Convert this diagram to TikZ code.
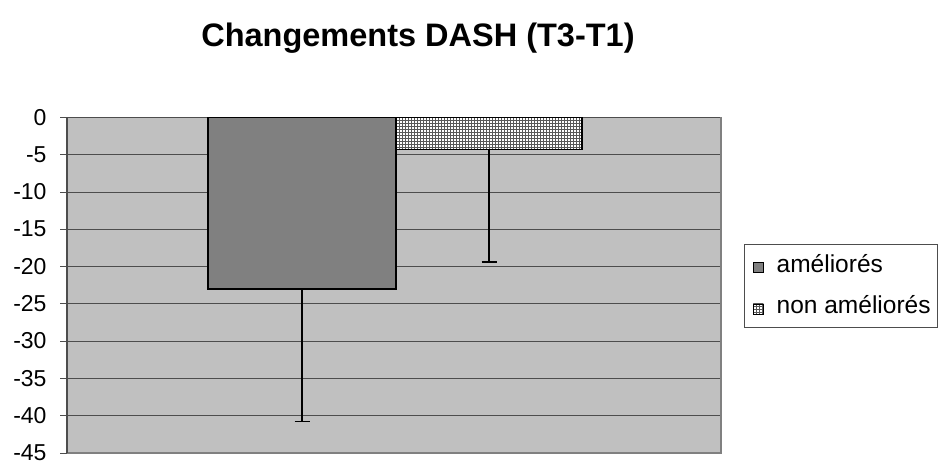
\documentclass[tikz,border=0pt]{standalone}
\usepackage{fontspec}
\setmainfont{Liberation Sans}
\usetikzlibrary{patterns, positioning}
\definecolor{plotgray}{RGB}{192,192,192}
\definecolor{bargray}{RGB}{128,128,128}
\definecolor{gridgray}{RGB}{77,77,77}
\tikzset{
axis label/.style = { anchor = base east, inner sep = 0pt, font = \fontsize{23}{27}\selectfont },
bar/.style = { draw = black, line width = 1.5pt },
err bar/.style = { draw = black, line width = 1.5pt },
legend key/.style = { draw = black, line width = 0.8pt, minimum size = 10pt, inner sep = 0pt },
legend text/.style = { anchor = base west, inner sep = 0pt, font = \fontsize{24.5}{28}\selectfont },
}
\begin{document}
\begin{tikzpicture}[x=1pt, y=1pt]
    \useasboundingbox (0,0) rectangle (938,462);
    \node[anchor=base, inner sep=0pt, font=\bfseries\fontsize{32.5}{38}\selectfont] (title) at (418,415) {Changements DASH (T3-T1)};
    \begin{scope}[xshift=67pt, yshift=344.5pt, y=7.456pt]
      % plot area and grid
      \fill[plotgray] (0,0) rectangle (654,-45);
      \foreach \v in {-5,-10,...,-40}
        \draw[gridgray, line width=1pt] (0,\v) -- (654,\v);
      \draw[gridgray, line width=1.2pt] (0,0) -- (654,0);
      \draw[bargray, line width=1.5pt] (654,0) -- (654,-45) -- (0,-45);
      % bars
      \path[bar, fill=bargray] (141,0) rectangle (329,-23);
      \path[bar, preaction={fill=white}, pattern=grid, pattern color=black!65] (329,0) rectangle (515,-4.3);
      \coordinate (amel top) at (235,-23);
      \coordinate (amel low) at (235,-40.8);
      \coordinate (non top) at (422,-4.3);
      \coordinate (non low) at (422,-19.4);
      \path [-] (amel top) edge [err bar] (amel low);
      \path [-] ([xshift=-7.5pt]amel low) edge [err bar] ([xshift=7.5pt]amel low);
      \path [-] (non top) edge [err bar] (non low);
      \path [-] ([xshift=-7.5pt]non low) edge [err bar] ([xshift=7.5pt]non low);
      % axis
      \draw[gridgray, line width=1.3pt] (0,0) -- (0,-45);
      \foreach \v in {0,-5,...,-45} {
        \draw[gridgray, line width=1pt] (-7,\v) -- (0,\v);
        \node[axis label, yshift=-7.6pt] at (-20.3,\v) {\v};
      }
    \end{scope}
    % legend
    \draw[gridgray, line width=1pt] (744,217) rectangle (937.5,134.3);
    \node[legend key, fill=bargray] (key amel) at (758.3,194.5) {};
    \node[legend text] (lab amel) at (776.5,189.3) {améliorés};
    \node[legend key, preaction={fill=white}, pattern=grid, pattern color=black!65] (key non) at (758.3,153) {};
    \node[legend text] (lab non) at (776.5,148) {non améliorés};
\end{tikzpicture}
\end{document}
